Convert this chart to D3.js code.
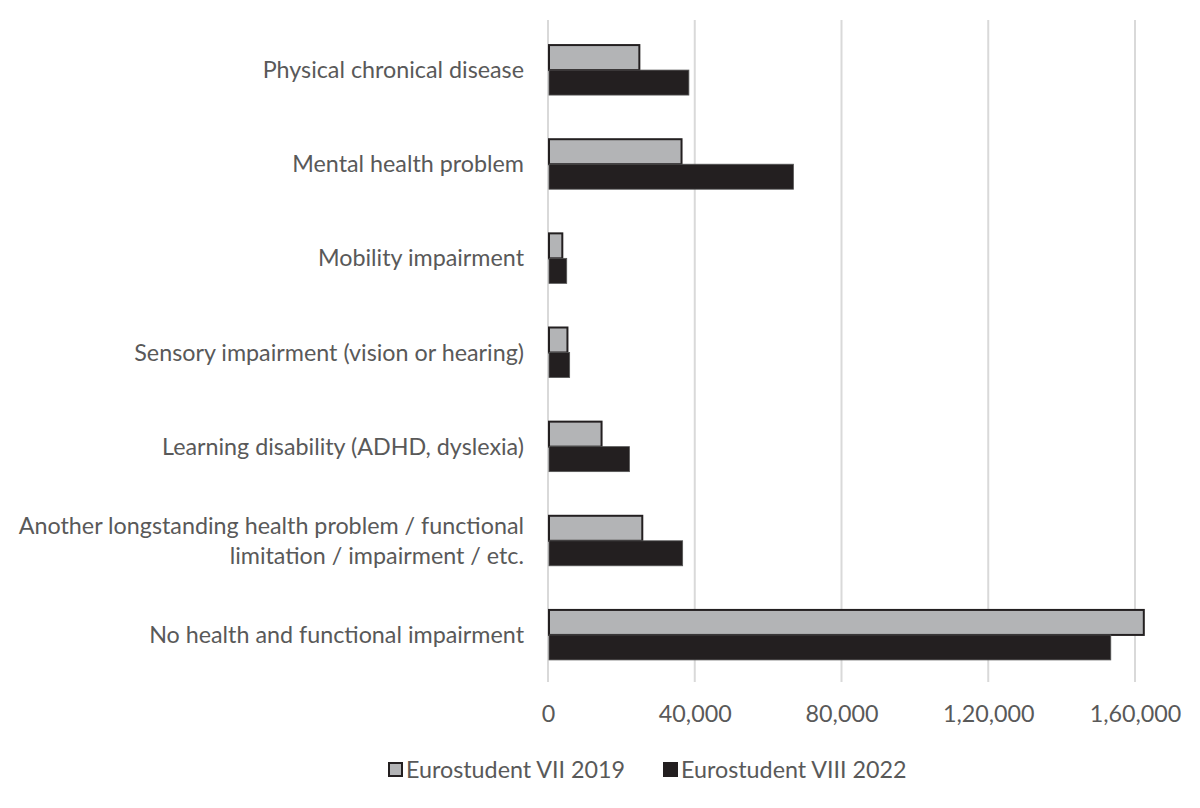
<!DOCTYPE html>
<html><head><meta charset="utf-8">
<script src="https://cdn.jsdelivr.net/npm/d3@7"></script>
<style>body{margin:0;background:#fff}</style>
</head><body>
<svg id="c" width="1200" height="808"></svg>
<script>
const categories = [
  ["Physical chronical disease"],
  ["Mental health problem"],
  ["Mobility impairment"],
  ["Sensory impairment (vision or hearing)"],
  ["Learning disability (ADHD, dyslexia)"],
  ["Another longstanding health problem / functional", "limitation / impairment / etc."],
  ["No health and functional impairment"]
];
const series = ["Eurostudent VII 2019", "Eurostudent VIII 2022"];
const values2019 = [24900, 36400, 3900, 5300, 14600, 25700, 162400];
const values2022 = [38400, 66900, 5100, 5900, 22200, 36700, 153400];
const xTicks = [0, 40000, 80000, 120000, 160000];
const xTickLabels = ["0", "40,000", "80,000", "1,20,000", "1,60,000"];

const colors = ["#b3b4b6", "#231f20"];
const svg = d3.select("#c");
const font = "Lato, 'Open Sans', sans-serif";
const fs = 23.3;
const x = d3.scaleLinear().domain([0, 160000]).range([548, 1135]);
const keys = categories.map((d, i) => i);
const y = d3.scaleBand().domain(keys).range([23, 682]).padding(0);
const sub = d3.scaleBand().domain([0, 1]).range([0, 50]);

// gridlines
svg.append("g").selectAll("line").data(xTicks).join("line")
  .attr("x1", d => x(d)).attr("x2", d => x(d))
  .attr("y1", 20).attr("y2", 682)
  .attr("stroke", "#d9d9d9").attr("stroke-width", 2);

// bars
const g = svg.append("g");
[values2019, values2022].forEach((vals, s) => {
  g.selectAll(".b" + s).data(vals).join("rect")
    .attr("x", x(0) + 1)
    .attr("y", (d, i) => y(i) + y.bandwidth() / 2 - 25 + sub(s))
    .attr("width", d => x(d) - x(0) - 1)
    .attr("height", sub.bandwidth())
    .attr("fill", colors[s])
    .attr("stroke", s === 0 ? "#231f20" : "#555")
    .attr("stroke-width", s === 0 ? 2 : 0.8);
});

// category labels
const lab = svg.append("g");
categories.forEach((lines, i) => {
  const cy = y(i) + y.bandwidth() / 2;
  const t = lab.append("text")
    .attr("x", 524).attr("text-anchor", "end")
    .attr("font-family", font).attr("font-size", fs).attr("fill", "#595959");
  lines.forEach((ln, j) => {
    t.append("tspan").attr("x", 524)
      .attr("y", cy + 8 + (j - (lines.length - 1) / 2) * 30)
      .text(ln);
  });
});

// x axis labels
const xAxis = d3.axisBottom(x).tickValues(xTicks)
  .tickFormat((d, i) => xTickLabels[i]).tickSize(0).tickPadding(0);
const ax = svg.append("g").attr("transform", "translate(0,705)").call(xAxis);
ax.select(".domain").remove();
ax.selectAll("text").attr("font-family", font).attr("font-size", fs).attr("fill", "#595959");

// legend
const leg = svg.append("g");
const legX = [389, 664];
series.forEach((s, i) => {
  leg.append("rect").attr("x", legX[i]).attr("y", 763).attr("width", 13).attr("height", 13)
    .attr("fill", colors[i]).attr("stroke", "#231f20").attr("stroke-width", 2);
  leg.append("text").attr("x", legX[i] + 17).attr("y", 778)
    .attr("font-family", font).attr("font-size", fs).attr("fill", "#595959").text(s);
});
</script>
</body></html>
